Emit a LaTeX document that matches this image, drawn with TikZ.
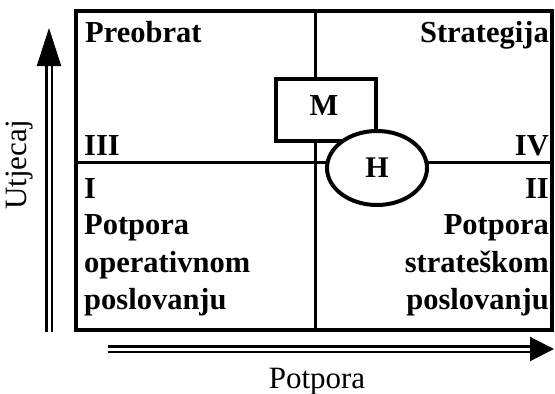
\documentclass[tikz,border=0pt]{standalone}
\usepackage{fontspec}
\setmainfont{Liberation Serif}
\usetikzlibrary{
    arrows.meta,
    shapes.geometric
}
\tikzset{
  quad/.style   = {font=\bfseries\fontsize{30.5}{34}\selectfont, inner sep=0pt},
  axlbl/.style  = {font=\fontsize{31}{34}\selectfont, inner sep=0pt},
  frame/.style  = {draw, line width=3.5pt},
  divide/.style = {draw, line width=3pt},
  dblarr/.style = {double, double distance=3pt, line width=2.2pt}
}

\begin{document}
\begin{tikzpicture}[x=1pt, y=-1pt,
    mbox/.style={draw, line width=3.5pt, fill=white, minimum width=100pt,
                 minimum height=62pt, inner sep=0pt},
    hell/.style={ellipse, draw, line width=4pt, fill=white, minimum width=100pt,
                 minimum height=74pt, inner sep=0pt}
  ]
    \useasboundingbox (0,0) rectangle (555,394);
    % quadrants
    \draw[divide] (315,11) -- (315,330);
    \draw[divide] (75,162) -- (553,162);
    \draw[frame] (76,11) rectangle (552,330);
    \node[mbox](m) at (326,110) {};
    \node[quad] at (324,106) {M};
    \node[hell](h) at (377,168) {\bfseries\fontsize{30}{34}\selectfont H};

    \node[quad, anchor=base west] (preobrat) at (85,42) {Preobrat};
    \node[quad, anchor=base east] (strat) at (549,42) {Strategija};
    \node[quad, anchor=base west] (q3) at (84,155) {III};
    \node[quad, anchor=base east] (q4) at (549,155) {IV};
    \node[quad, anchor=base west] (q1) at (84,198) {I};
    \node[quad, anchor=base east] (q2) at (549,198) {II};
    \node[quad, anchor=base west] (l1) at (84,234) {Potpora};
    \node[quad, anchor=base west] (l2) at (84,272) {operativnom};
    \node[quad, anchor=base west] (l3) at (84,309) {poslovanju};
    \node[quad, anchor=base east] (r1) at (549,234) {Potpora};
    \node[quad, anchor=base east] (r2) at (549,272) {strateškom};
    \node[quad, anchor=base east] (r3) at (549,309) {poslovanju};

    % axes
    \coordinate (ybot) at (49,332);
    \coordinate (ytop) at (49,28);
    \coordinate (xleft) at (108,349);
    \coordinate (xright) at (554,349);
    \draw[dblarr, -{Triangle[length=38pt,width=24pt]}] (ybot) -- (ytop);
    \draw[dblarr, -{Triangle[length=24pt,width=24pt]}] (xleft) -- (xright);
    \node[axlbl, rotate=90] (utj) at (20,165) {Utjecaj};
    \node[axlbl, anchor=base] (pot) at (317,388) {Potpora};
  \end{tikzpicture}
\end{document}
